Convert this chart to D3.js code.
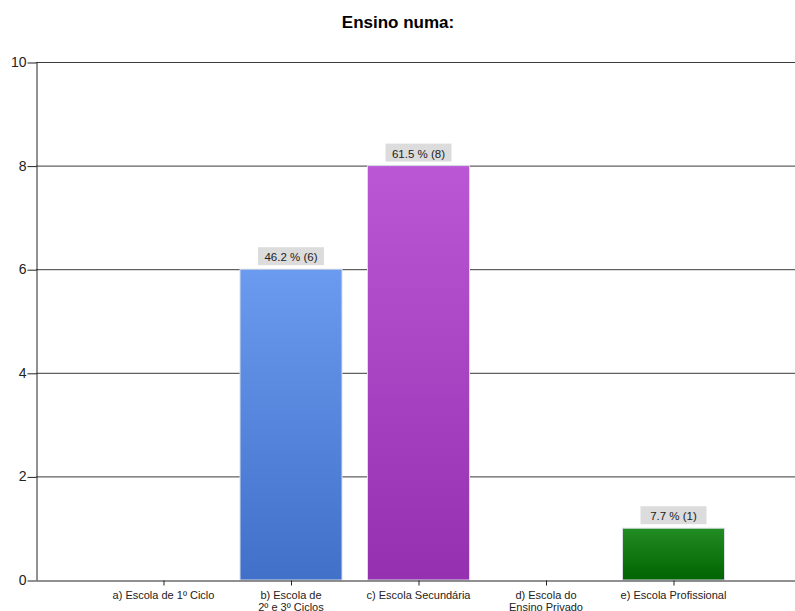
<!DOCTYPE html>
<html>
<head>
<meta charset="utf-8">
<script src="https://cdn.jsdelivr.net/npm/d3@7"></script>
<style>
  html, body { margin: 0; padding: 0; background: #fff; }
  svg { display: block; font-family: "Liberation Sans", Arial, sans-serif; }
</style>
</head>
<body>
<svg id="chart" width="795" height="611"></svg>
<script>
// Responses per school type
const categories = [
  ["a) Escola de 1º Ciclo"],
  ["b) Escola de", "2º e 3º Ciclos"],
  ["c) Escola Secundária"],
  ["d) Escola do", "Ensino Privado"],
  ["e) Escola Profissional"]
];
const counts = [0, 6, 8, 0, 1];
const percents = [0, 46.2, 61.5, 0, 7.7];
const yTicks = [0, 2, 4, 6, 8, 10];
const barColors = [
  ["#6a9bf0", "#4070c8"],
  ["#6a9bf0", "#4070c8"],
  ["#bb57d4", "#9531b0"],
  ["#6a9bf0", "#4070c8"],
  ["#238c23", "#006400"]
];

const svg = d3.select("#chart");
const plotLeft = 36, plotRight = 801, plotTop = 62, plotBottom = 580;

// Category axis runs 0..6 with categories at 1..5
const x = d3.scaleLinear().domain([0, 6]).range([plotLeft, plotRight]);
const y = d3.scaleLinear().domain([0, 10]).range([plotBottom, plotTop]);
const unit = x(1) - x(0);
const barW = unit * 0.8;

// Title
svg.append("text")
  .attr("x", 398).attr("y", 28)
  .attr("text-anchor", "middle")
  .attr("font-size", 17).attr("font-weight", "bold")
  .attr("fill", "#000")
  .text("Ensino numa:");

// Gradients
const defs = svg.append("defs");
barColors.forEach((c, i) => {
  const g = defs.append("linearGradient").attr("id", "g" + i)
    .attr("x1", 0).attr("y1", 0).attr("x2", 0).attr("y2", 1);
  g.append("stop").attr("offset", "0%").attr("stop-color", c[0]);
  g.append("stop").attr("offset", "100%").attr("stop-color", c[1]);
});

// Horizontal gridlines
svg.append("g").selectAll("line").data(yTicks.filter(t => t > 0)).join("line")
  .attr("x1", plotLeft).attr("x2", 795)
  .attr("y1", d => y(d) + 0.5).attr("y2", d => y(d) + 0.5)
  .attr("stroke", "#3a3a3a").attr("stroke-width", 1);

// Bars
const idx = d3.range(categories.length);
svg.append("g").selectAll("rect").data(idx.filter(i => counts[i] > 0)).join("rect")
  .attr("x", i => x(i + 1) - barW / 2)
  .attr("y", i => y(counts[i]))
  .attr("width", barW)
  .attr("height", i => y(0) - y(counts[i]))
  .attr("fill", i => `url(#g${i})`)
  .attr("stroke", "#d8dde8").attr("stroke-width", 1);

// Value labels
const lab = svg.append("g").selectAll("g").data(idx.filter(i => counts[i] > 0)).join("g")
  .attr("transform", i => `translate(${x(i + 1)},${y(counts[i]) - 12})`);
lab.append("rect")
  .attr("x", -33).attr("y", -10).attr("width", 66).attr("height", 18)
  .attr("fill", "#dcdcdc");
lab.append("text")
  .attr("text-anchor", "middle").attr("y", 4)
  .attr("font-size", 11.5).attr("fill", "#222")
  .text(i => `${percents[i]} % (${counts[i]})`);

// Y axis
const yAxis = svg.append("g").attr("transform", `translate(${plotLeft + 0.5},0)`)
  .call(d3.axisLeft(y).tickValues(yTicks).tickSize(9).tickSizeOuter(0).tickFormat(d3.format("d")));
yAxis.select(".domain").attr("stroke", "#222");
yAxis.selectAll(".tick line").attr("stroke", "#222").attr("transform", "translate(0,0.5)");
yAxis.selectAll(".tick text").attr("font-size", 14).attr("fill", "#222").attr("x", -10).attr("font-family", "Liberation Sans, Arial, sans-serif");

// X axis
const xAxis = svg.append("g").attr("transform", `translate(0,${plotBottom + 0.5})`)
  .call(d3.axisBottom(x).tickValues(d3.range(1, 6)).tickSize(5).tickSizeOuter(0).tickFormat(""));
xAxis.select(".domain").attr("stroke", "#222");
xAxis.selectAll(".tick line").attr("stroke", "#222");

// Category labels
const cat = svg.append("g").selectAll("text").data(idx).join("text")
  .attr("x", i => x(i + 1))
  .attr("y", 599)
  .attr("text-anchor", "middle")
  .attr("font-size", 11).attr("fill", "#222");
cat.selectAll("tspan").data(i => categories[i].map(t => ({ t, i }))).join("tspan")
  .attr("x", d => x(d.i + 1))
  .attr("dy", (d, k) => k === 0 ? 0 : 12)
  .text(d => d.t);
</script>
</body>
</html>
